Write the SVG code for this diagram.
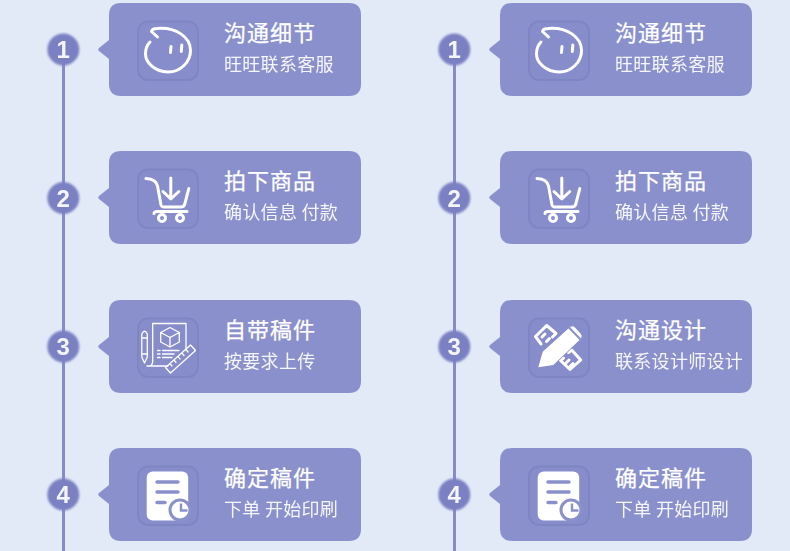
<svg xmlns="http://www.w3.org/2000/svg" width="790" height="551" viewBox="0 0 790 551">
<style>
.line{stroke:#868cc9;stroke-width:3;fill:none}
.card{fill:#8a90cb}
.box{fill:#878dca;stroke:#7f85c2;stroke-width:2;filter:url(#s)}
.ic{fill:none;stroke:#fff;stroke-width:3;stroke-linecap:round;stroke-linejoin:round}
.thin{fill:none;stroke:#fff;stroke-width:1.300;stroke-linecap:round;stroke-linejoin:round}
.t{font-family:"Noto Sans CJK SC","Liberation Sans",sans-serif;fill:#fff}
.h{font-size:22px;letter-spacing:1px;stroke:#fff;stroke-width:.25}
.s{font-size:18px;letter-spacing:.3px;opacity:.92}
.n{font-family:"Liberation Sans",Arial,sans-serif;font-size:24px;fill:#fff;text-anchor:middle;font-weight:700;opacity:.92}
.halo{fill:#7a80c2;filter:url(#b)}
</style>
<defs>
<filter id="b" x="-30%" y="-30%" width="160%" height="160%"><feGaussianBlur stdDeviation="1.100"/></filter>
<filter id="s" x="-10%" y="-10%" width="120%" height="120%"><feGaussianBlur stdDeviation=".7"/></filter>
<g id="shell">
<path class="card" d="M121 0H349Q361 0 361 12V81Q361 93 349 93H121Q109 93 109 81V56L99 48Q97.500 46.500 99 45L109 37V12Q109 0 121 0Z"/>
<rect class="box" x="138" y="18.500" width="60" height="58.500" rx="10"/>
</g>
<g id="ball">
<circle class="halo" cx="0" cy="0" r="16"/>
</g>
<g id="i-chat">
<path class="ic" d="M157.500 37L151.500 31.500Q152 28.500 157 28.500C176 27 190.500 37 190.500 50.500C190.500 62.500 180 72 168 72C155 72 145.500 62.500 145.500 54C145.500 49 147 45 150 42"/>
<path class="ic" d="M171 46.500L170.500 52.500M181.800 45L181.300 51.500"/>
</g>
<g id="i-cart">
<path class="ic" d="M146 178.500Q156 179 157.500 186L161 205Q161.500 207 164 207L181 207Q184 207 184.800 204L188.800 188.500"/>
<path class="ic" d="M154 213.500Q154 211.500 157 211.500L187 211.500"/>
<circle class="ic" cx="162" cy="218" r="3.500"/>
<circle class="ic" cx="180" cy="218" r="3.500"/>
<path class="ic" d="M170.800 178V198M163 191.500L170.800 199L178.800 191.500"/>
</g>
<g id="i-own">
<path class="thin" d="M152.700 361V323.500H186V350"/>
<path class="thin" d="M147 366Q152.700 367 152.700 361M147 366H168"/>
<path class="thin" d="M141.800 334Q144.500 328.500 147.300 334V357L144.500 363L141.800 357ZM141.800 338H147.300M141.800 354H147.300"/>
<path class="thin" stroke-width="1.600" d="M170 327.500L179.300 332.500V342L170 347L160.700 342V332.500ZM160.700 332.500L170 337.500L179.300 332.500M170 337.500V347"/>
<path class="thin" stroke-width="1.600" d="M157.500 350.500H160M157.500 354H160M157.500 357.500H160M162.500 350.500H179M162.500 354H174M162.500 357.500H172"/>
<path class="thin" stroke-width="1.600" d="M165.500 367.500L190.500 345L195.500 350.500L170.500 373ZM170 363.500L172 366M174 360L176 362.500M178 356.500L180 359M182 353L184 355.500M186 349.500L188 352"/>
</g>
<g id="i-pen">
<path class="ic" d="M541 344L535.500 336.500L546.700 325.500L556 333.500L552.500 337M542 337L545 334M546.500 341.500L549.500 338.500"/>
<path class="ic" d="M568.500 352.500L571.700 350L580.700 360L570 369.500L560.500 360.500L563.500 358M566 363L569 360M570 366.500L573 363.500"/>
<path fill="#fff" stroke="#878dca" stroke-width="1.500" paint-order="stroke" d="M538.300 367.300L542.700 351.700L569 328Q572 325 575 327.500L580.500 333.500Q583 336.500 580 339.500L553.300 365Z"/>
<path stroke="#8a90cb" stroke-width="2" d="M567.500 326L581.500 340.500"/>
</g>
<g id="i-doc">
<rect fill="#fff" x="146.700" y="471.500" width="41.500" height="49" rx="6"/>
<path stroke="#8a90cb" stroke-width="3.400" stroke-linecap="round" fill="none" d="M157 482H178M157 492H178M157 502.500H165"/>
<circle fill="#fff" stroke="#8a90cb" stroke-width="3" cx="180" cy="510" r="10"/>
<path stroke="#8a90cb" stroke-width="2.400" fill="none" d="M181 503.500V510.500H187.500"/>
</g>
</defs>
<rect width="790" height="551" fill="#e2eaf8"/>
<g id="connectors">
<path class="line" d="M63.500 60V551"/>
<path class="line" d="M454.500 60V551"/>
</g>
<g id="left-1"><use href="#shell" y="3"/><use href="#i-chat"/><use href="#ball" x="63.300" y="49.500"/><text class="n" x="63.300" y="58">1</text><text class="t h" x="224" y="41">沟通细节</text><text class="t s" x="224" y="71">旺旺联系客服</text></g>
<g id="left-2"><use href="#shell" y="151"/><use href="#i-cart"/><use href="#ball" x="63.300" y="198"/><text class="n" x="63.300" y="206.500">2</text><text class="t h" x="224" y="189">拍下商品</text><text class="t s" x="224" y="219">确认信息 付款</text></g>
<g id="left-3"><use href="#shell" y="300"/><use href="#i-own"/><use href="#ball" x="63.300" y="346.500"/><text class="n" x="63.300" y="355">3</text><text class="t h" x="224" y="338">自带稿件</text><text class="t s" x="224" y="368">按要求上传</text></g>
<g id="left-4"><use href="#shell" y="448"/><use href="#i-doc"/><use href="#ball" x="63.300" y="494.500"/><text class="n" x="63.300" y="503">4</text><text class="t h" x="224" y="486">确定稿件</text><text class="t s" x="224" y="516">下单 开始印刷</text></g>
<g id="right-1"><use href="#shell" x="391" y="3"/><use href="#i-chat" x="391"/><use href="#ball" x="454.300" y="49.500"/><text class="n" x="454.300" y="58">1</text><text class="t h" x="615" y="41">沟通细节</text><text class="t s" x="615" y="71">旺旺联系客服</text></g>
<g id="right-2"><use href="#shell" x="391" y="151"/><use href="#i-cart" x="391"/><use href="#ball" x="454.300" y="198"/><text class="n" x="454.300" y="206.500">2</text><text class="t h" x="615" y="189">拍下商品</text><text class="t s" x="615" y="219">确认信息 付款</text></g>
<g id="right-3"><use href="#shell" x="391" y="300"/><use href="#i-pen"/><use href="#ball" x="454.300" y="346.500"/><text class="n" x="454.300" y="355">3</text><text class="t h" x="615" y="338">沟通设计</text><text class="t s" x="615" y="368">联系设计师设计</text></g>
<g id="right-4"><use href="#shell" x="391" y="448"/><use href="#i-doc" x="391"/><use href="#ball" x="454.300" y="494.500"/><text class="n" x="454.300" y="503">4</text><text class="t h" x="615" y="486">确定稿件</text><text class="t s" x="615" y="516">下单 开始印刷</text></g>
</svg>
